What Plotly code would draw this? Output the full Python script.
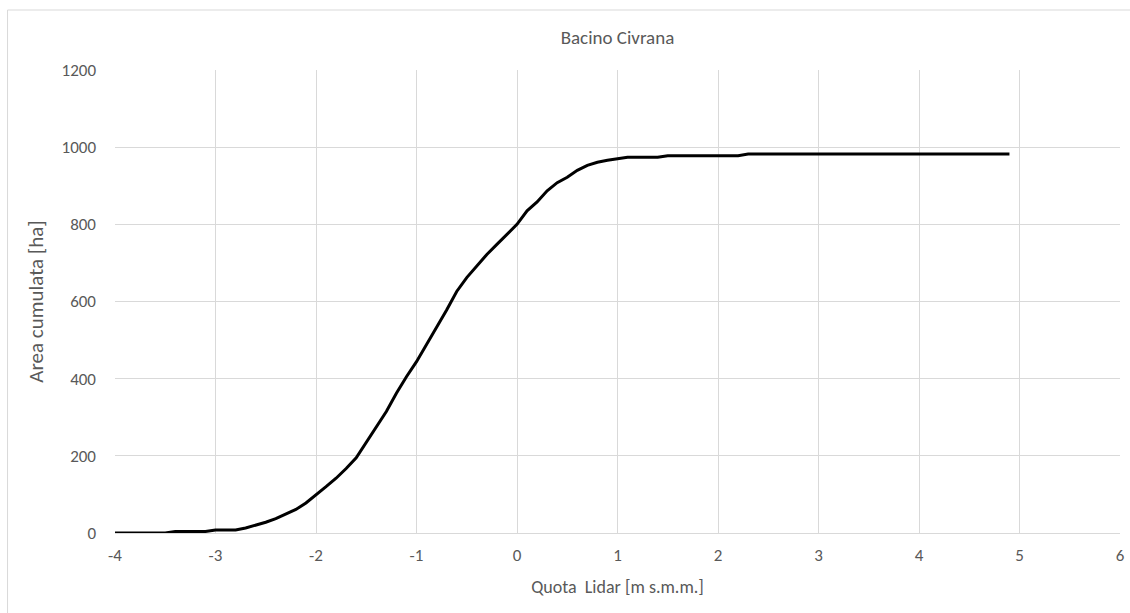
import plotly.graph_objects as go

quota = [-4.0, -3.9, -3.8, -3.7, -3.6, -3.5, -3.4, -3.3, -3.2, -3.1,
         -3.0, -2.9, -2.8, -2.7, -2.6, -2.5, -2.4, -2.3, -2.2, -2.1,
         -2.0, -1.9, -1.8, -1.7, -1.6, -1.5, -1.4, -1.3, -1.2, -1.1,
         -1.0, -0.9, -0.8, -0.7, -0.6, -0.5, -0.4, -0.3, -0.2, -0.1,
         0.0, 0.1, 0.2, 0.3, 0.4, 0.5, 0.6, 0.7, 0.8, 0.9,
         1.0, 1.1, 1.2, 1.3, 1.4, 1.5, 1.6, 1.7, 1.8, 1.9,
         2.0, 2.1, 2.2, 2.3, 2.4, 2.5, 2.6, 2.7, 2.8, 2.9,
         3.0, 3.1, 3.2, 3.3, 3.4, 3.5, 3.6, 3.7, 3.8, 3.9,
         4.0, 4.1, 4.2, 4.3, 4.4, 4.5, 4.6, 4.7, 4.8, 4.9]

area = [0, 0, 0, 0, 0, 0, 4, 4, 4, 4,
        8, 8, 8, 13, 20, 28, 37, 48, 61, 78,
        98, 120, 142, 167, 195, 235, 275, 315, 362, 405,
        444, 487, 533, 578, 626, 662, 692, 722, 748, 774,
        800, 835, 858, 887, 908, 922, 940, 953, 961, 966,
        970, 974, 974, 974, 974, 978, 978, 978, 978, 978,
        978, 978, 978, 982, 982, 982, 982, 982, 982, 982,
        982, 982, 982, 982, 982, 982, 982, 982, 982, 982,
        982, 982, 982, 982, 982, 982, 982, 982, 982, 982]

x_ticks = [-4, -3, -2, -1, 0, 1, 2, 3, 4, 5, 6]
y_ticks = [0, 200, 400, 600, 800, 1000, 1200]

FONT = "Carlito, Calibri, 'Liberation Sans Narrow', 'Open Sans', sans-serif"
GRAY = "#595959"

fig = go.Figure()
fig.add_trace(go.Scatter(x=quota, y=area, mode="lines",
                         line=dict(color="black", width=3),
                         showlegend=False, hoverinfo="x+y"))

fig.update_layout(
    width=1130, height=613,
    margin=dict(l=115, r=5, t=70, b=80),
    paper_bgcolor="white", plot_bgcolor="white",
    font=dict(family=FONT, color=GRAY, size=17),
    title=dict(text="Bacino Civrana", x=0.5, xref="paper", xanchor="center",
               y=1 - 37 / 613, yanchor="middle",
               font=dict(family=FONT, size=19, color=GRAY)),
    xaxis=dict(range=[-4, 6], tickvals=x_ticks, ticktext=[str(v) for v in x_ticks],
               showgrid=True, gridcolor="#d9d9d9", gridwidth=1,
               zeroline=False, showline=True, linecolor="#d9d9d9",
               tickfont=dict(size=17, color=GRAY), ticklabelstandoff=7,
               ticks="",
               title=dict(text="Quota  Lidar [m s.m.m.]", font=dict(size=18, color=GRAY), standoff=14)),
    yaxis=dict(range=[0, 1200], tickvals=y_ticks, ticktext=[str(v) for v in y_ticks],
               showgrid=True, gridcolor="#d9d9d9", gridwidth=1,
               zeroline=False, showline=False,
               tickfont=dict(size=17, color=GRAY), ticks="", ticklabelstandoff=18,
               title=dict(text="Area cumulata [ha]", font=dict(size=21, color=GRAY), standoff=12)),
    shapes=[dict(type="rect", xref="paper", yref="paper",
                 x0=(7 - 115) / 1010, x1=1.03, y0=-0.2, y1=(533 - 10) / 463,
                 line=dict(color="#d9d9d9", width=1), layer="below")],
)

fig.write_html("out.html")
